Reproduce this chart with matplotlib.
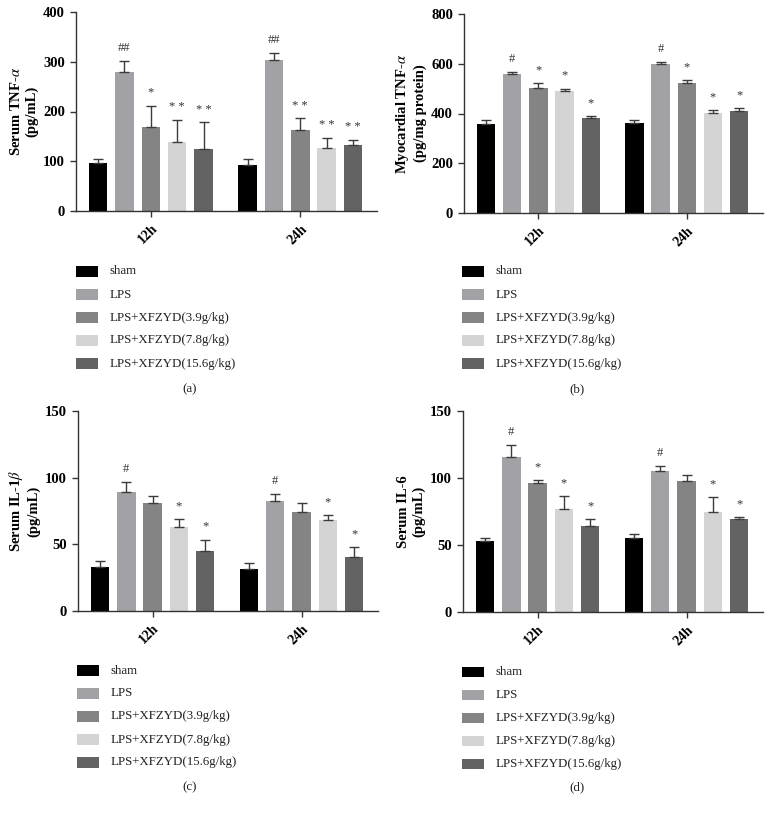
import matplotlib
matplotlib.use("Agg")
import matplotlib.pyplot as plt
from matplotlib.patches import Rectangle
import numpy as np

plt.rcParams['font.family'] = ['Liberation Serif', 'DejaVu Serif']
plt.rcParams['mathtext.fontset'] = 'stix'

groups = ["12h", "24h"]
series = ["sham", "LPS", "LPS+XFZYD(3.9g/kg)", "LPS+XFZYD(7.8g/kg)", "LPS+XFZYD(15.6g/kg)"]
colors = ["#000000", "#a2a2a6", "#848484", "#d4d4d4", "#636363"]

# panel (a) Serum TNF-alpha: [series][group]
a_mean = [[96, 93], [280, 303], [169, 163], [138, 127], [124, 132]]
a_err = [[8, 12], [21, 14], [43, 23], [45, 19], [54, 10]]
a_sig = [["", ""], ["##", "##"], ["*", "* *"], ["* *", "* *"], ["* *", "* *"]]

# panel (b) Myocardial TNF-alpha
b_mean = [[358, 362], [559, 599], [503, 523], [491, 404], [383, 412]]
b_err = [[16, 10], [8, 7], [19, 12], [9, 10], [6, 9]]
b_sig = [["", ""], ["#", "#"], ["*", "*"], ["*", "*"], ["*", "*"]]

# panel (c) Serum IL-1beta
c_mean = [[33.2, 31.2], [89.4, 82.4], [81.2, 74.4], [63.3, 68.3], [45.0, 40.2]]
c_err = [[4.0, 5.0], [7.6, 5.3], [5.0, 6.3], [5.5, 3.6], [8.5, 7.5]]
c_sig = [["", ""], ["#", "#"], ["", ""], ["*", "*"], ["*", "*"]]

# panel (d) Serum IL-6
d_mean = [[53.3, 55.3], [115.3, 105.0], [96.3, 98.0], [77.0, 74.3], [64.3, 69.5]]
d_err = [[1.8, 2.7], [9.2, 4.0], [2.2, 4.2], [9.3, 11.5], [5.0, 1.3]]
d_sig = [["", ""], ["#", "#"], ["*", ""], ["*", "*"], ["*", "*"]]

W, H = 772, 814
fig = plt.figure(figsize=(W / 100, H / 100), dpi=100)

def add_ax(left, right, top, bottom):
    return fig.add_axes([left / W, 1 - bottom / H, (right - left) / W, (bottom - top) / H])

group_offset = 5.67
panels = [
    dict(box=(76, 377, 12, 211), mean=a_mean, err=a_err, sig=a_sig, ylim=400, step=100,
         ylabel="Serum TNF-$\\alpha$\n(pg/mL)"),
    dict(box=(464, 763, 14, 213), mean=b_mean, err=b_err, sig=b_sig, ylim=800, step=200,
         ylabel="Myocardial TNF-$\\alpha$\n(pg/mg protein)"),
    dict(box=(78, 378, 411, 611), mean=c_mean, err=c_err, sig=c_sig, ylim=150, step=50,
         ylabel="Serum IL-1$\\beta$\n(pg/mL)"),
    dict(box=(463, 763, 411, 612), mean=d_mean, err=d_err, sig=d_sig, ylim=150, step=50,
         ylabel="Serum IL-6\n(pg/mL)"),
]

for p in panels:
    ax = add_ax(*p["box"])
    for si in range(len(series)):
        xs = np.array([si, si + group_offset])
        ax.bar(xs, p["mean"][si], width=0.7, color=colors[si], zorder=2)
        ax.errorbar(xs, p["mean"][si], yerr=[[0, 0], p["err"][si]], fmt="none",
                    ecolor="#3c3c3c", elinewidth=1.0, capsize=3.5, capthick=1.0, zorder=3)
        for gi in range(2):
            s = p["sig"][si][gi]
            if s:
                ax.annotate(s, (xs[gi], p["mean"][si][gi] + p["err"][si][gi]),
                            xytext=(0, 5), textcoords="offset points",
                            ha="center", va="bottom", fontsize=9, color="#333333")
    ax.set_xlim(-0.84, 10.58)
    ax.set_ylim(0, p["ylim"])
    ax.set_yticks(np.arange(0, p["ylim"] + 1, p["step"]))
    ax.set_xticks([2, 2 + group_offset])
    ax.set_xticklabels(groups, rotation=45, ha="right", rotation_mode="anchor",
                       fontsize=10, fontweight="bold")
    for lab in ax.get_yticklabels():
        lab.set_fontweight("bold")
        lab.set_fontsize(10.5)
    ax.tick_params(axis="both", direction="out", length=4, width=1, color="#333333", pad=4)
    ax.tick_params(axis="y", pad=4)
    for side in ["top", "right"]:
        ax.spines[side].set_visible(False)
    for side in ["left", "bottom"]:
        ax.spines[side].set_color("#333333")
        ax.spines[side].set_linewidth(1.0)
    ax.set_ylabel(p["ylabel"], fontsize=10.5, fontweight="bold", linespacing=1.25, labelpad=3)

# legends
legend_specs = [(76, 271.5, "(a)", 190, 389), (462, 271.5, "(b)", 577, 389),
                (77, 670.5, "(c)", 190, 787), (462, 672, "(d)", 577, 787)]
for (x0, y0, tag, tx, ty) in legend_specs:
    for i, (name, col) in enumerate(zip(series, colors)):
        yc = y0 + i * 23
        fig.patches.append(Rectangle((x0 / W, 1 - (yc + 5.3) / H), 22 / W, 10.6 / H,
                                     transform=fig.transFigure, facecolor=col,
                                     edgecolor="none"))
        fig.text((x0 + 33.5) / W, 1 - yc / H, name, fontsize=9.3, va="center", ha="left",
                 color="#222222")
    fig.text(tx / W, 1 - ty / H, tag, fontsize=9.3, ha="center", va="center", color="#222222")

fig.savefig("out.png", dpi=100)
